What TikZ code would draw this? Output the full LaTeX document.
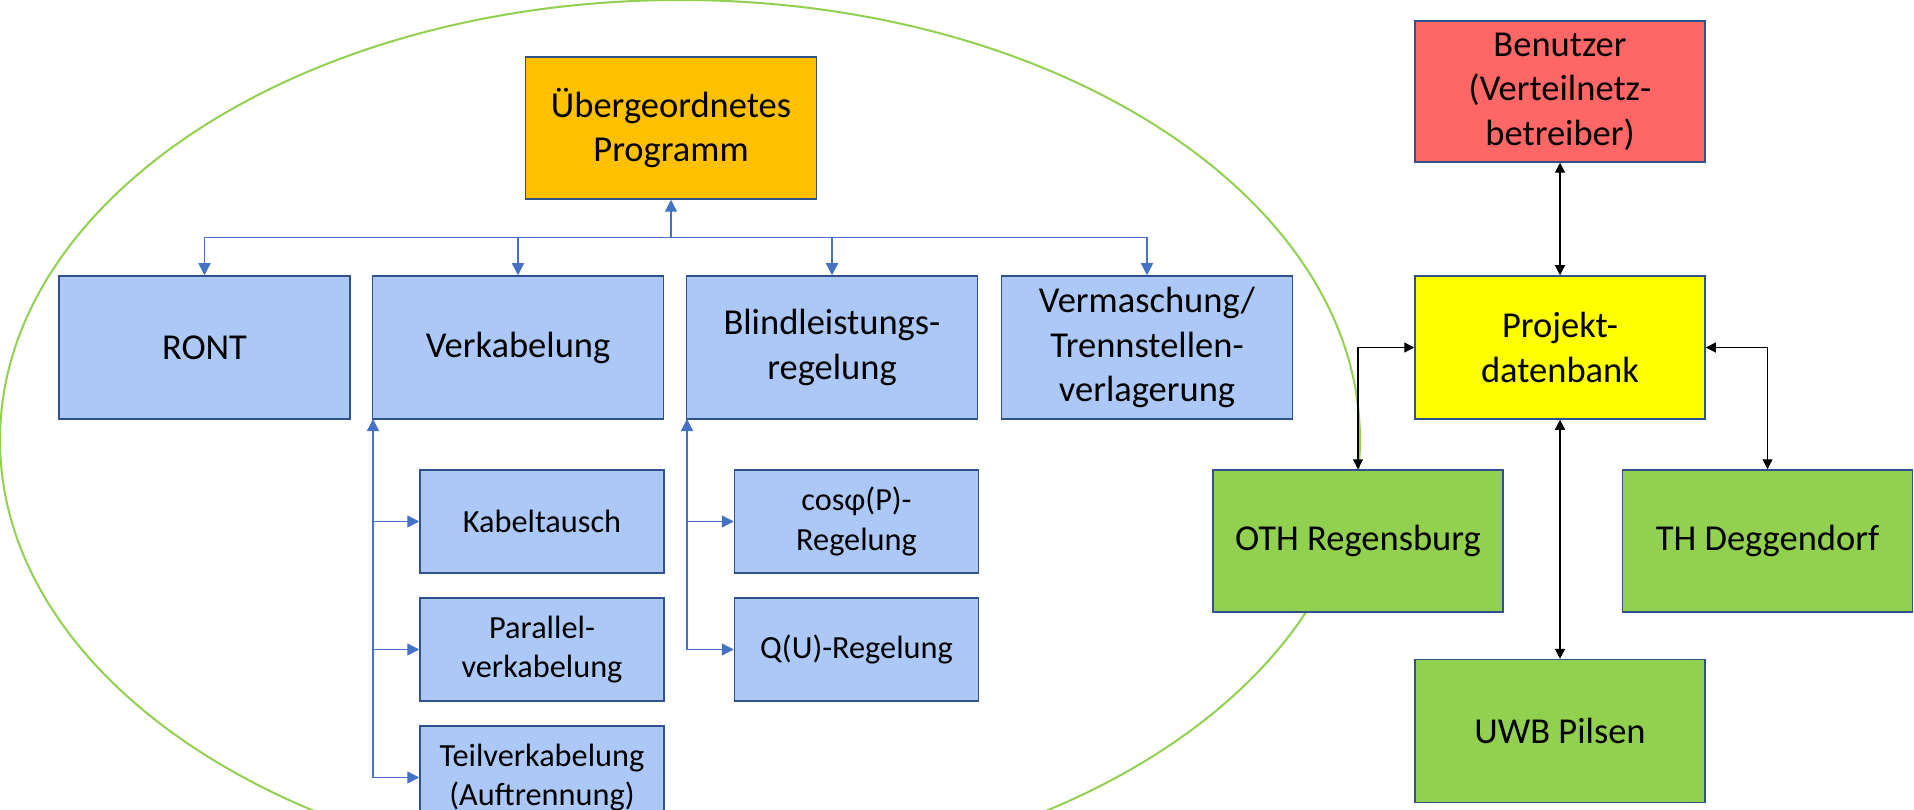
\documentclass[tikz,border=0pt]{standalone}
\usepackage{fontspec}
\setmainfont{Carlito}
\usetikzlibrary{arrows.meta}
\definecolor{bfill}{RGB}{171,200,247}
\definecolor{bline}{RGB}{47,82,143}
\definecolor{cline}{RGB}{68,114,196}
\definecolor{orng}{RGB}{255,192,0}
\definecolor{rd}{RGB}{255,102,102}
\definecolor{yl}{RGB}{255,255,0}
\definecolor{gr}{RGB}{146,208,80}
\definecolor{ell}{RGB}{146,208,80}
\newcommand\bigfont{\fontsize{36.5}{44.6}\selectfont}
\newcommand\smallfont{\fontsize{32.3}{39.5}\selectfont}
\tikzset{
  box/.style={draw=bline, line width=1.5pt, inner sep=0pt, align=center, font=\bigfont, fill=bfill, minimum width=291pt, minimum height=143pt},
  subbox/.style={box, font=\smallfont, minimum width=244pt, minimum height=103pt},
  bconn/.style={draw=cline, line width=1.3pt},
  btip/.style={bconn, -{Triangle[length=12pt,width=12pt]}},
  btiprev/.style={bconn, {Triangle[length=12pt,width=12pt]}-},
  kconn/.style={draw=black, line width=1.2pt, {Triangle[length=10pt,width=10pt]}-{Triangle[length=10pt,width=10pt]}}
}
\begin{document}
\begin{tikzpicture}[x=1pt,y=-1pt]
\clip (0,0) rectangle (1914,810);
\fill[white] (0,0) rectangle (1914,810);
% ellipse
\draw[ell, line width=2pt] (680,440) ellipse [x radius=680pt, y radius=440pt];
% left hierarchy
\node[box, fill=orng, minimum width=291pt, minimum height=142pt] (ueber) at (671,128) {Übergeordnetes\\Programm};
\node[box] (ront) at (204.5,347.5) {RONT};
\node[box] (verk) at (518,347.5) {Verkabelung};
\node[box] (blind) at (832,347.5) {Blindleistungs-\\regelung};
\node[box] (verm) at (1147,347.5) {Vermaschung/\\Trennstellen-\\verlagerung};
\node[subbox] (kabel) at (542,521.5) {Kabeltausch};
\node[subbox] (para) at (542,649.5) {Parallel-\\verkabelung};
\node[subbox] (teil) at (542,777.5) {Teilverkabelung\\(Auftrennung)};
\node[subbox] (cosp) at (856.5,521.5) {cosφ(P)-\\Regelung};
\node[subbox] (qu) at (856.5,649.5) {Q(U)-Regelung};
\coordinate (bus) at (671,237.5);
\draw[btip] (bus) -- (ueber);
\draw[btip] (bus) -| (ront);
\draw[btip] (bus) -| (verk);
\draw[btip] (bus) -| (blind);
\draw[btip] (bus) -| (verm);
\coordinate (vtop) at (373,419);
\coordinate (vbot) at (373,778);
\draw[btiprev] (vtop) -- (vbot);
\draw[btip] (kabel.west -| vtop) -- (kabel.west);
\draw[btip] (para.west -| vtop) -- (para.west);
\draw[btip] (teil.west -| vtop) -- (teil.west);
\coordinate (btop) at (687,419);
\coordinate (bbot) at (687,650);
\draw[btiprev] (btop) -- (bbot);
\draw[btip] (cosp.west -| btop) -- (cosp.west);
\draw[btip] (qu.west -| btop) -- (qu.west);
% right part
\node[box, fill=rd, minimum width=290pt, minimum height=141pt] (ben) at (1560,91.5) {Benutzer\\(Verteilnetz-\\betreiber)};
\node[box, fill=yl, minimum width=290pt] (proj) at (1560,347.5) {Projekt-\\datenbank};
\node[box, fill=gr, minimum width=290pt, minimum height=142pt] (oth) at (1358,541) {OTH Regensburg};
\node[box, fill=gr, minimum width=290pt, minimum height=142pt] (thd) at (1767.5,541) {TH Deggendorf};
\node[box, fill=gr, minimum width=290pt, minimum height=143pt] (uwb) at (1560,731) {UWB Pilsen};
\draw[kconn] (ben) -- (proj);
\draw[kconn] (proj) -- (uwb);
\draw[kconn] (proj.west) -| (oth);
\draw[kconn] (proj.east) -| (thd);
\end{tikzpicture}
\end{document}
